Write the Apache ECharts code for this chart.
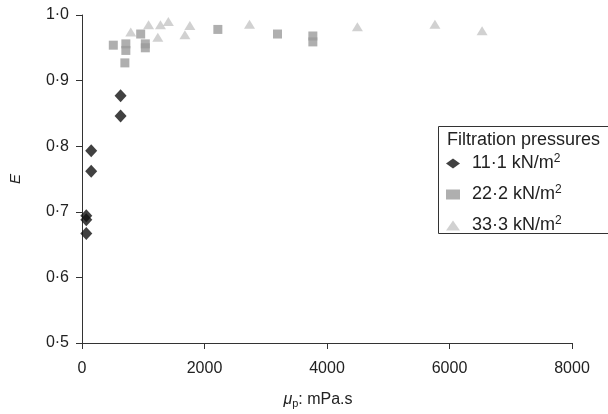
<!DOCTYPE html>
<html><head><meta charset="utf-8">
<script src="https://cdn.jsdelivr.net/npm/echarts@6/dist/echarts.min.js"></script>
<style>html,body{margin:0;padding:0;background:#fff}#c{width:608px;height:414px}</style>
</head><body><div id="c"></div>
<script>
const xTicks = [0, 2000, 4000, 6000, 8000];
const yTicks = [0.5, 0.6, 0.7, 0.8, 0.9, 1.0];
const seriesNames = ['11·1 kN/m2', '22·2 kN/m2', '33·3 kN/m2'];
const legendTitle = 'Filtration pressures';
const p11_x = [70, 70, 70, 150, 150, 630, 630];
const p11_y = [0.694, 0.688, 0.667, 0.793, 0.762, 0.877, 0.846];
const p22_x = [511, 716, 716, 700, 958, 1034, 1034, 2218, 3192, 3769, 3769];
const p22_y = [0.954, 0.956, 0.946, 0.927, 0.971, 0.956, 0.950, 0.978, 0.971, 0.968, 0.959];
const p33_x = [796, 1087, 1281, 1238, 1410, 1680, 1761, 2735, 4496, 5762, 6532];
const p33_y = [0.974, 0.985, 0.985, 0.966, 0.990, 0.970, 0.984, 0.986, 0.982, 0.986, 0.976];

const zip = (a, b) => a.map((v, i) => [v, b[i]]);
const font = 'Liberation Sans, Arial, sans-serif';
const axisCol = '#333';
const txt = '#222';
const chart = echarts.init(document.getElementById('c'));
chart.setOption({
  animation: false,
  backgroundColor: '#fff',
  grid: { left: 77, right: 36, top: 15, bottom: 68 },
  xAxis: {
    type: 'value', min: xTicks[0], max: xTicks[xTicks.length - 1], interval: 2000,
    name: '{mu|μ}{sub|p}: mPa.s', nameLocation: 'middle', nameGap: 47,
    nameTextStyle: { fontFamily: font, fontSize: 16, color: txt, padding: [0, 18, 0, 0],
      rich: { mu: { fontFamily: font, fontSize: 16, fontStyle: 'italic', color: txt },
              sub: { fontFamily: font, fontSize: 11, color: txt, verticalAlign: 'bottom', padding: [8, 0, 0, 0] } } },
    axisLine: { lineStyle: { color: axisCol, width: 1 } },
    axisTick: { show: true, length: 6, inside: false, lineStyle: { color: axisCol } },
    axisLabel: { fontFamily: font, fontSize: 16, color: txt, margin: 18, formatter: v => String(v) },
    splitLine: { show: false }
  },
  yAxis: {
    type: 'value', min: yTicks[0], max: yTicks[yTicks.length - 1], interval: 0.1,
    name: 'E', nameLocation: 'middle', nameGap: 59,
    nameTextStyle: { fontFamily: font, fontSize: 15, fontStyle: 'italic', color: txt },
    axisLine: { show: true, lineStyle: { color: axisCol, width: 1 } },
    axisTick: { show: true, length: 6, lineStyle: { color: axisCol } },
    axisLabel: { fontFamily: font, fontSize: 16, color: txt, margin: 13,
      formatter: v => v.toFixed(1).replace('.', '·') },
    splitLine: { show: false }
  },
  legend: {
    orient: 'vertical', left: 441, top: 148, itemGap: 10, itemWidth: 14, itemHeight: 10,
    data: seriesNames,
    formatter: n => n.slice(0, -1) + '{sup|' + n.slice(-1) + '}',
    textStyle: { fontFamily: font, fontSize: 18, color: txt, lineHeight: 21, padding: [0, 0, 0, 7],
      rich: { sup: { fontFamily: font, fontSize: 12, color: txt, verticalAlign: 'top', lineHeight: 12 } } }
  },
  graphic: [
    { type: 'rect', shape: { x: 438.5, y: 126.5, width: 180, height: 107 },
      style: { fill: 'none', stroke: '#333', lineWidth: 1 }, z: 10 },
    { type: 'text', left: 447, top: 131, z: 10,
      style: { text: legendTitle, fontFamily: font, fontSize: 18, fill: txt } }
  ],
  series: [
    { name: seriesNames[0], type: 'scatter', symbol: 'diamond', symbolSize: [12, 13],
      itemStyle: { color: '#111' }, data: zip(p11_x, p11_y) },
    { name: seriesNames[1], type: 'scatter', symbol: 'rect', symbolSize: 9,
      itemStyle: { color: '#9b9b9b' }, data: zip(p22_x, p22_y) },
    { name: seriesNames[2], type: 'scatter', symbol: 'triangle', symbolSize: [11, 9],
      itemStyle: { color: '#c6c6c6' }, data: zip(p33_x, p33_y) }
  ]
});
</script></body></html>
